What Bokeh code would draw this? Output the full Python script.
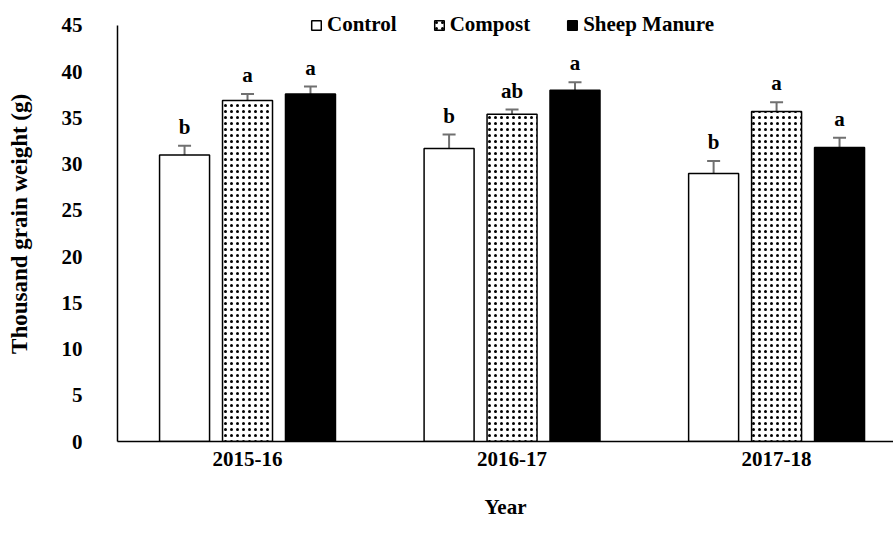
from bokeh.plotting import figure
from bokeh.models import ColumnDataSource, Whisker, FixedTicker, Range1d, Legend, LegendItem, TeeHead
from bokeh.transform import dodge
from bokeh.core.properties import value
from bokeh.embed import file_html
from bokeh.resources import INLINE

years = ["2015-16", "2016-17", "2017-18"]
series = ["Control", "Compost", "Sheep Manure"]
control = [31.0, 31.7, 29.0]
compost = [36.9, 35.4, 35.7]
sheep = [37.6, 38.0, 31.8]
control_err = [1.0, 1.5, 1.35]
compost_err = [0.7, 0.5, 1.0]
sheep_err = [0.8, 0.85, 1.05]
control_lbl = ["b", "b", "b"]
compost_lbl = ["a", "ab", "a"]
sheep_lbl = ["a", "a", "a"]
y_ticks = [0, 5, 10, 15, 20, 25, 30, 35, 40, 45]

FONT = "Liberation Serif"
FS = "21px"
xs = list(range(len(years)))

p = figure(width=893, height=539, output_backend="svg", toolbar_location=None,
           x_range=Range1d(-0.4915, 2.442), y_range=Range1d(0, 47.704),
           min_border_left=117, min_border_right=0, min_border_top=0, min_border_bottom=98)
p.outline_line_color = None
p.xgrid.visible = False
p.ygrid.visible = False

specs = [
    (series[0], control, control_err, control_lbl, -0.238, dict(fill_color="white")),
    (series[1], compost, compost_err, compost_lbl, 0.0,
     dict(fill_color="white", hatch_pattern="dot", hatch_color="black", hatch_scale=6, hatch_weight=0.8)),
    (series[2], sheep, sheep_err, sheep_lbl, 0.238, dict(fill_color="black")),
]

items = []
for name, vals, errs, lbls, off, style in specs:
    src = ColumnDataSource(dict(x=xs, y=vals,
                                upper=[v + e for v, e in zip(vals, errs)],
                                lower=[v - e for v, e in zip(vals, errs)],
                                lbl=lbls))
    r = p.vbar(x=dodge("x", off, range=p.x_range), top="y", bottom=0, width=0.189, source=src,
               line_color="black", line_width=1.5, **style)
    items.append(LegendItem(label=name, renderers=[r]))
    w = Whisker(base=dodge("x", off, range=p.x_range), upper="upper", lower="lower", source=src,
                line_color="#707070", line_width=2,
                upper_head=TeeHead(size=13, line_color="#707070", line_width=2),
                lower_head=TeeHead(size=13, line_color="#707070", line_width=2))
    p.add_layout(w)
    p.text(x=dodge("x", off, range=p.x_range), y="upper", text="lbl", source=src,
           text_font=value(FONT), text_font_style="bold", text_font_size=FS,
           text_align="center", text_baseline="bottom", y_offset=-7, text_color="black")

legend = Legend(items=items, orientation="horizontal", location=(193, 404),
                label_text_font=FONT, label_text_font_style="bold", label_text_font_size=FS,
                label_text_color="black",
                glyph_width=12, glyph_height=12, spacing=36, label_standoff=5,
                background_fill_alpha=0, border_line_color=None, margin=0, padding=0)
p.add_layout(legend, "center")

p.xaxis.ticker = FixedTicker(ticks=xs)
p.xaxis.major_label_overrides = {i: y for i, y in enumerate(years)}
p.yaxis.ticker = FixedTicker(ticks=y_ticks)
p.yaxis.bounds = (0, 45)
for ax in (p.xaxis, p.yaxis):
    ax.major_tick_line_color = None
    ax.minor_tick_line_color = None
    ax.axis_line_color = "black"
    ax.axis_line_width = 1.5
    ax.major_label_text_font = FONT
    ax.major_label_text_font_style = "bold"
    ax.major_label_text_font_size = FS
    ax.major_label_text_color = "black"
    ax.axis_label_text_font = FONT
    ax.axis_label_text_font_style = "bold"
    ax.axis_label_text_font_size = FS
    ax.axis_label_text_color = "black"
p.yaxis.axis_label_text_font_size = "23px"
p.yaxis.major_label_standoff = 29
p.xaxis.major_label_standoff = 4
p.xaxis.axis_label = "Year"
p.yaxis.axis_label = "Thousand  grain weight (g)"
p.xaxis.axis_label_standoff = 26
p.yaxis.axis_label_standoff = 27

open("out.html", "w").write(file_html(p, INLINE))
